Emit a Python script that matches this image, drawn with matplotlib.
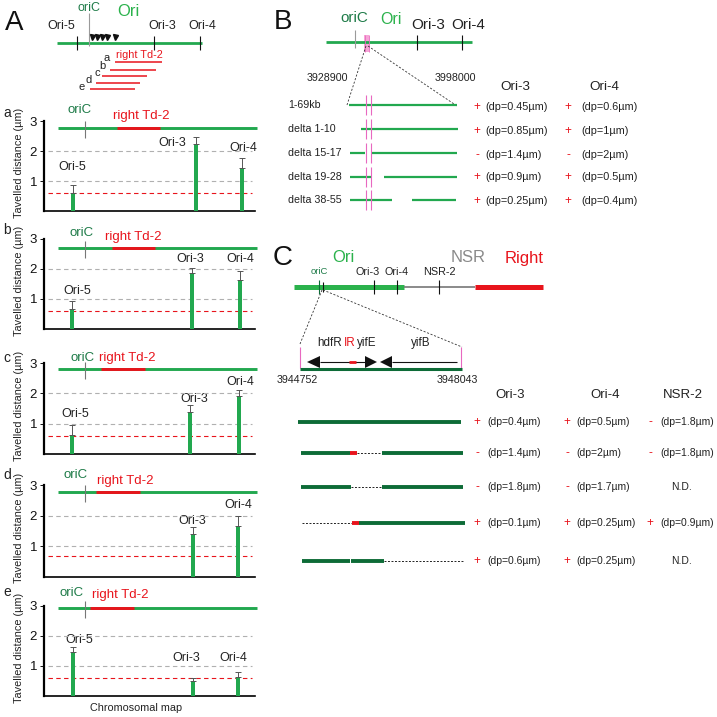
import matplotlib
matplotlib.use('Agg')
import matplotlib.pyplot as plt
import numpy as np
from matplotlib.patches import Polygon, Rectangle

plt.rcParams['font.family'] = ['Liberation Sans', 'DejaVu Sans']

# ---------------- data ----------------
panels = ['a', 'b', 'c', 'd', 'e']
loci = ['Ori-5', 'Ori-3', 'Ori-4']
ori5_vals = [0.60, 0.67, 0.63, np.nan, 1.47]
ori5_err = [0.27, 0.26, 0.32, np.nan, 0.16]
ori3_vals = [2.23, 1.85, 1.40, 1.40, 0.50]
ori3_err = [0.24, 0.18, 0.20, 0.23, 0.10]
ori4_vals = [1.45, 1.63, 1.90, 1.67, 0.63]
ori4_err = [0.33, 0.30, 0.20, 0.33, 0.17]
baseline = [0.60, 0.60, 0.60, 0.67, 0.60]
ref_lines = [1.0, 2.0]
yticks = [1, 2, 3]

B_rows = ['1-69kb', 'delta 1-10', 'delta 15-17', 'delta 19-28', 'delta 38-55']
B_ori3_sign = ['+', '+', '-', '+', '+']
B_ori3_dp = ['0.45', '0.85', '1.4', '0.9', '0.25']
B_ori4_sign = ['+', '+', '-', '+', '+']
B_ori4_dp = ['0.6', '1', '2', '0.5', '0.4']

C_ori3_sign = ['+', '-', '-', '+', '+']
C_ori3_dp = ['0.4', '1.4', '1.8', '0.1', '0.6']
C_ori4_sign = ['+', '-', '-', '+', '+']
C_ori4_dp = ['0.5', '2', '1.7', '0.25', '0.25']
C_nsr_sign = ['-', '-', '', '+', '']
C_nsr_dp = ['1.8', '1.8', 'N.D.', '0.9', 'N.D.']

# ---------------- layout (pixels) ----------------
W = 717
GREEN = '#22a84f'
OGREEN = '#2bb24c'
DGREEN = '#1e7b48'
CGREEN = '#0d6b37'
RED = '#e8141c'
GREY = '#9a9a9a'
PINK = '#e868c0'
TXT = '#222222'

fig = plt.figure(figsize=(7.17, 7.17), dpi=100)
D = fig.add_axes([0, 0, 1, 1])
D.set_xlim(0, W)
D.set_ylim(W, 0)
D.axis('off')


def T(x, y, s, size, color=TXT, ha='center', va='center', **kw):
    D.text(x, y, s, fontsize=size, color=color, ha=ha, va=va, **kw)


def L(xs, ys, color, lw, **kw):
    D.plot(xs, ys, color=color, lw=lw, solid_capstyle='butt', **kw)


# ---------------- Panel A header ----------------
T(14, 23, 'A', 20, '#111111')
L([57, 202], [43, 43], GREEN, 2.0)
L([89, 89], [13, 46], GREY, 0.8)
for tx in [77, 154, 200]:
    L([tx, tx], [36, 50], '#111111', 0.8)
for tx in [92, 97, 102, 107, 115]:
    D.plot([tx], [37], marker='v', color='#111111', ms=3.6, ls='none')
T(61, 26, 'Ori-5', 9)
T(89, 8, 'oriC', 9, DGREEN)
T(128, 11, 'Ori', 12, OGREEN)
T(162, 26, 'Ori-3', 9)
T(202, 26, 'Ori-4', 9)
td_lines = [(115, 162, 62), (110, 156, 70), (102, 147, 76), (96, 140, 83), (90, 135, 89)]
td_letters = [(107, 58), (102, 66), (97, 73), (89, 80), (82, 87)]
for (x0, x1, yy), (lx, ly), p in zip(td_lines, td_letters, panels):
    L([x0, x1], [yy, yy], RED, 1.1)
    T(lx, ly, p, 8)
T(139, 55, 'right Td-2', 7.8, RED)

# ---------------- Panel A bar panels ----------------
ax_top = [121, 239, 363, 485, 606]
ax_bot = [211, 329, 454, 577, 696]
x_left, x_right = 44, 255
ori5_x = [73, 72, 72, 72, 73]
ori3_x = [196, 192, 190, 193, 193]
ori4_x = [242, 240, 239, 238, 238]
chrom_y = [128, 248, 369, 492, 608]
td_seg = [(117, 160), (112, 155), (101, 145), (96, 140), (90, 134)]
oric_lab = [(80, 110), (82, 233), (83, 358), (76, 475), (72, 593)]
td_lab = [(141, 116), (133, 237), (127, 358), (125, 481), (120, 595)]
ori_labels = [
    [(72, 167), (172, 143), (243, 148)],
    [(77, 291), (190, 259), (240, 259)],
    [(75, 414), (194, 399), (240, 382)],
    [None, (192, 521), (238, 505)],
    [(79, 640), (186, 658), (233, 658)],
]
letter_y = [113, 230, 358, 475, 592]

for i, p in enumerate(panels):
    h = ax_bot[i] - ax_top[i]
    ax = fig.add_axes([x_left / W, 1 - ax_bot[i] / W, (x_right - x_left) / W, h / W])
    ax.patch.set_alpha(0)
    ax.set_xlim(x_left, x_right)
    ax.set_ylim(0, 3)
    for s in ['top', 'right']:
        ax.spines[s].set_visible(False)
    ax.spines['left'].set_linewidth(1.6)
    ax.spines['bottom'].set_linewidth(1.2)
    ax.set_xticks([])
    ax.set_yticks(yticks)
    ax.tick_params(axis='y', length=3, width=0.7, labelsize=9.5, pad=2, colors='#111111')
    xs = [ori5_x[i], ori3_x[i], ori4_x[i]]
    vals = np.array([ori5_vals[i], ori3_vals[i], ori4_vals[i]])
    errs = np.array([ori5_err[i], ori3_err[i], ori4_err[i]])
    for r in ref_lines:
        ax.plot([48, 252], [r, r], color='#b0b0b0', lw=0.8, ls=(0, (4, 3)))
    ax.plot([48, 252], [baseline[i], baseline[i]], color=RED, lw=0.8, ls=(0, (4, 3)))
    ok = ~np.isnan(vals)
    xs_ok = np.array(xs)[ok]
    ax.bar(xs_ok, vals[ok], width=4.5, color=GREEN, zorder=3)
    ax.errorbar(xs_ok, vals[ok], yerr=[np.zeros(ok.sum()), errs[ok]], fmt='none',
                ecolor='#555555', elinewidth=0.7, capsize=2, capthick=0.7, zorder=4)
    # chromosome map above
    cy = chrom_y[i]
    L([58, 257], [cy, cy], GREEN, 2.1)
    L(list(td_seg[i]), [cy, cy], RED, 2.1)
    L([85, 85], [cy - 7, cy + 10], '#777777', 0.8)
    T(oric_lab[i][0], oric_lab[i][1], 'oriC', 9.5, DGREEN)
    T(td_lab[i][0], td_lab[i][1], 'right Td-2', 9.5, RED)
    for lab, pos in zip(loci, ori_labels[i]):
        if pos is not None:
            T(pos[0], pos[1], lab, 9)
    T(7, letter_y[i], p, 10)
    T(19, (ax_top[i] + ax_bot[i]) / 2 - 3, 'Tavelled distance (µm)', 7.8, rotation=90)

T(136, 708, 'Chromosomal map', 7.8)

# ---------------- Panel B ----------------
T(283, 22, 'B', 20, '#111111')
L([326, 472], [42, 42], GREEN, 2.0)
L([355, 355], [30, 48], GREY, 0.8)
D.add_patch(Rectangle((364, 35), 4.5, 17, color='#f6a6d6', lw=0))
L([364.5, 364.5], [35, 52], PINK, 0.6)
L([368.5, 368.5], [35, 52], PINK, 0.6)
for tx in [417, 462]:
    L([tx, tx], [35, 50], '#111111', 0.8)
T(354, 18, 'oriC', 11, DGREEN)
T(391, 20, 'Ori', 11.5, OGREEN)
T(428, 25, 'Ori-3', 11)
T(468, 25, 'Ori-4', 11)
D.plot([366, 347], [46, 105], color='#333333', lw=0.6, ls=(0, (2.5, 2)))
D.plot([368, 457], [46, 106], color='#333333', lw=0.6, ls=(0, (2.5, 2)))
T(327, 78, '3928900', 7.7)
T(455, 78, '3998000', 7.7)
B_row_y = [105, 129, 153, 177, 200]
B_segments = [[(349, 457)], [(361, 458)], [(350, 365), (371, 457)],
              [(350, 371), (384, 457)], [(350, 392), (412, 456)]]
for yy, name, segs in zip(B_row_y, B_rows, B_segments):
    T(288, yy, name, 7.7, ha='left')
    for s0, s1 in segs:
        L([s0, s1], [yy, yy], GREEN, 1.6)
    for px in [366, 371]:
        L([px, px], [yy - 10, yy + 10], PINK, 0.8)
T(515, 87, 'Ori-3', 9.7)
T(604, 87, 'Ori-4', 9.7)
B_tab_y = [107, 131, 155, 177, 201]
for k, yy in enumerate(B_tab_y):
    T(477, yy, B_ori3_sign[k], 8.5, RED)
    T(485, yy, '(dp=%sµm)' % B_ori3_dp[k], 7.8, ha='left')
    T(568, yy, B_ori4_sign[k], 8.5, RED)
    T(581, yy, '(dp=%sµm)' % B_ori4_dp[k], 7.8, ha='left')

# ---------------- Panel C ----------------
T(283, 258, 'C', 20, '#111111')
T(343, 257, 'Ori', 12, OGREEN)
T(468, 257, 'NSR', 12, '#8a8a8a')
T(524, 258, 'Right', 12, RED)
L([294, 404], [287, 287], OGREEN, 3.6)
L([404, 475], [287, 287], '#777777', 1.2)
L([475, 543], [287, 287], RED, 3.6)
L([319, 319], [280, 294], CGREEN, 0.8)
L([323, 323], [282, 292], '#111111', 0.8)
for tx in [374, 397, 439]:
    L([tx, tx], [280, 294], '#111111', 0.8)
T(319, 272, 'oriC', 6.8, DGREEN)
T(368, 272, 'Ori-3', 7.8)
T(397, 272, 'Ori-4', 7.8)
T(439, 272, 'NSR-2', 7.8)
D.plot([322, 300], [290, 344], color='#333333', lw=0.6, ls=(0, (2.5, 2)))
D.plot([323, 462], [290, 347], color='#333333', lw=0.6, ls=(0, (2.5, 2)))
# inset gene map
L([300, 300], [347, 368], PINK, 0.8)
L([461, 461], [347, 368], PINK, 0.8)
L([300, 462], [369, 369], CGREEN, 2.2)
L([320, 365], [362, 362], '#111111', 0.8)
L([392, 457], [362, 362], '#111111', 0.8)
L([349, 356], [362, 362], RED, 2.0)
for tri in [[(307, 362), (320, 356), (320, 368)],
            [(377, 362), (365, 356), (365, 368)],
            [(380, 362), (392, 356), (392, 368)]]:
    D.add_patch(Polygon(tri, closed=True, color='#111111', lw=0))
T(330, 343, 'hdfR', 8.4)
T(350, 343, 'IR', 8.4, RED)
T(357, 343, 'yifE', 8.4, ha='left')
T(421, 343, 'yifB', 8.4)
T(297, 380, '3944752', 7.7)
T(457, 380, '3948043', 7.7)

C_row_y = [422, 453, 487, 523, 561]
C_segments = [
    [(298, 461, 'g')],
    [(301, 350, 'g'), (350, 357, 'r'), (357, 382, 'd'), (382, 463, 'g')],
    [(301, 351, 'g'), (351, 382, 'd'), (382, 463, 'g')],
    [(302, 352, 'd'), (352, 359, 'r'), (359, 465, 'g')],
    [(302, 350, 'g'), (351, 384, 'g'), (384, 463, 'd')],
]
for yy, segs in zip(C_row_y, C_segments):
    for s0, s1, st in segs:
        if st == 'g':
            L([s0, s1], [yy, yy], CGREEN, 2.8)
        elif st == 'r':
            L([s0, s1], [yy, yy], RED, 2.8)
        else:
            D.plot([s0, s1], [yy, yy], color='#222222', lw=0.7, ls=(0, (2, 1.6)))

T(510, 395, 'Ori-3', 9.5)
T(605, 395, 'Ori-4', 9.5)
T(683, 395, 'NSR-2', 9.5)
for k, yy in enumerate(C_row_y):
    T(477, yy, C_ori3_sign[k], 8.5, RED)
    T(487, yy, '(dp=%sµm)' % C_ori3_dp[k], 7.5, ha='left')
    T(567, yy, C_ori4_sign[k], 8.5, RED)
    T(576, yy, '(dp=%sµm)' % C_ori4_dp[k], 7.5, ha='left')
    if C_nsr_dp[k] == 'N.D.':
        T(681, yy, 'N.D.', 7.5)
    else:
        T(650, yy, C_nsr_sign[k], 8.5, RED)
        T(660, yy, '(dp=%sµm)' % C_nsr_dp[k], 7.5, ha='left')

fig.savefig('out.png', dpi=100)
